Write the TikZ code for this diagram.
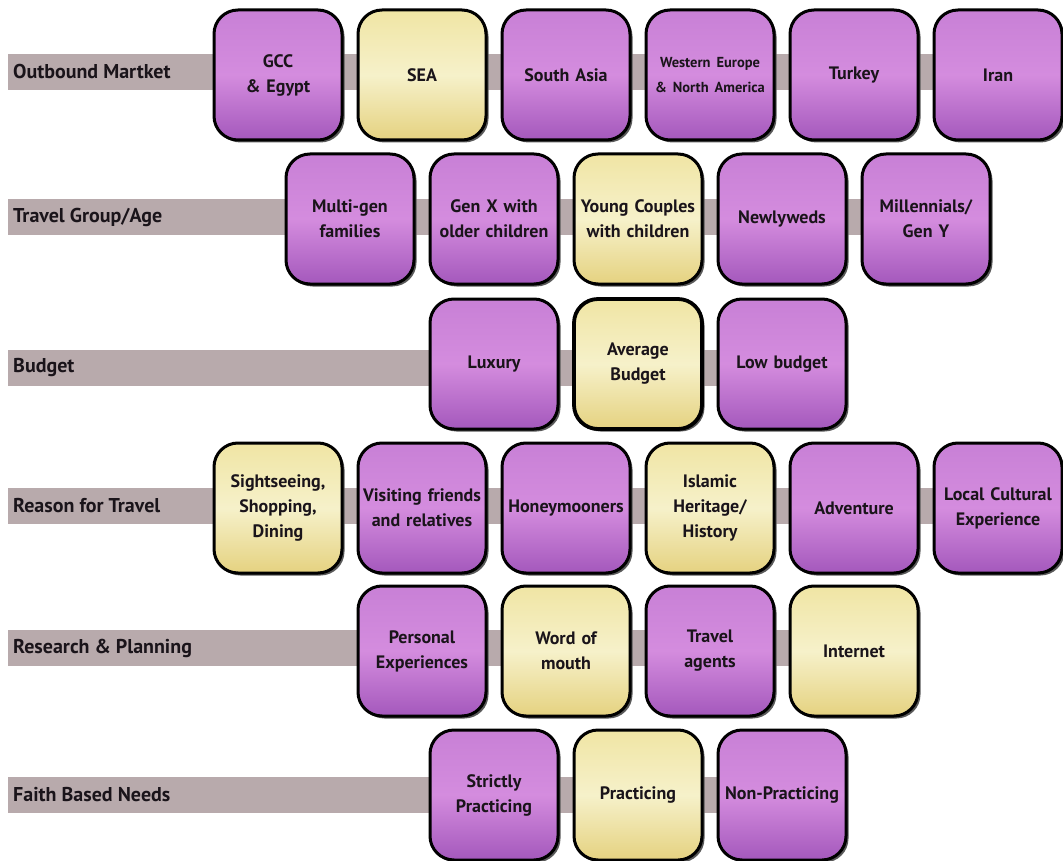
\documentclass[tikz,border=0pt]{standalone}
\usepackage{fontspec}
\setmainfont{PT Sans}
\usetikzlibrary{shadows,backgrounds}

\definecolor{barGray}{RGB}{184,170,172}
\definecolor{purpTop}{RGB}{200,128,214}
\definecolor{purpMid}{RGB}{212,140,222}
\definecolor{purpBot}{RGB}{164,88,188}
\definecolor{yelTop}{RGB}{240,229,164}
\definecolor{yelMid}{RGB}{246,241,202}
\definecolor{yelBot}{RGB}{229,210,128}
\definecolor{inkDark}{RGB}{26,20,26}

\begin{document}
\begin{tikzpicture}[
    x=1pt, y=-1pt,
    box/.style={rectangle, rounded corners=24pt, draw=black, line width=3pt,
        minimum width=128pt, minimum height=130pt, text width=126pt, inner sep=0pt,
        align=center, font=\fontsize{18}{25}\selectfont\bfseries, text=inkDark,
        top color=#1Top, bottom color=#1Bot, middle color=#1Mid,
        drop shadow={shadow xshift=2.5pt, shadow yshift=-2.5pt, fill=black!65, opacity=1}},
    rowlabel/.style={anchor=west, inner sep=0pt, font=\fontsize{20}{24}\selectfont\bfseries, text=inkDark},
    bar/.style={draw=barGray, line width=36pt}
]
    \useasboundingbox (0,0) rectangle (1063,861);

    \foreach \r/\yb/\t in {1/72/Outbound Martket, 2/217/Travel Group\slash Age, 3/368/Budget,
        4/506/Reason for Travel, 5/648/Research \& Planning, 6/795/Faith Based Needs} {
        \coordinate (s-\r) at (8,\yb);
        \node[rowlabel] (l-\r) at (13,\yb) {\t};
    }

    \foreach \k/\c/\t [count=\i] in {0/purp/GCC\\\& Egypt, 2/yel/SEA, 4/purp/South Asia,
        6/purp/\fontsize{14.5}{20}\selectfont Western Europe\\\& North America,
        8/purp/Turkey, 10/purp/Iran}
        \node[box=\c] (b-1-\i) at (278+72*\k,75) {\t};

    \foreach \k/\c/\t [count=\i] in {1/purp/Multi-gen\\families, 3/purp/Gen X with\\older children,
        5/yel/Young Couples\\with children, 7/purp/Newlyweds, 9/purp/Millennials\slash\\Gen Y}
        \node[box=\c] (b-2-\i) at (278+72*\k,219) {\t};

    \node[box=purp] (b-3-1) at (494,364) {Luxury};
    \node[box=yel, line width=3.8pt] (b-3-2) at (638,364) {Average\\Budget};
    \node[box=purp] (b-3-3) at (782,364) {Low budget};

    \foreach \k/\c/\t [count=\i] in {0/yel/{Sightseeing,\\Shopping,\\Dining},
        2/purp/Visiting friends\\and relatives, 4/purp/Honeymooners,
        6/yel/Islamic\\Heritage\slash\\History, 8/purp/Adventure,
        10/purp/Local Cultural\\Experience}
        \node[box=\c] (b-4-\i) at (278+72*\k,508) {\t};

    \foreach \k/\c/\t [count=\i] in {2/purp/Personal\\Experiences, 4/yel/Word of\\mouth,
        6/purp/Travel\\agents, 8/yel/Internet}
        \node[box=\c] (b-5-\i) at (278+72*\k,651) {\t};

    \foreach \k/\c/\t [count=\i] in {3/purp/Strictly\\Practicing, 5/yel/Practicing,
        7/purp/Non-Practicing}
        \node[box=\c] (b-6-\i) at (278+72*\k,795) {\t};

    \begin{scope}[on background layer]
        \foreach \r/\last in {1/6, 2/5, 3/3, 4/6, 5/4, 6/3}
            \draw[bar] (s-\r) -- (s-\r -| b-\r-\last.center);
    \end{scope}

\end{tikzpicture}
\end{document}
